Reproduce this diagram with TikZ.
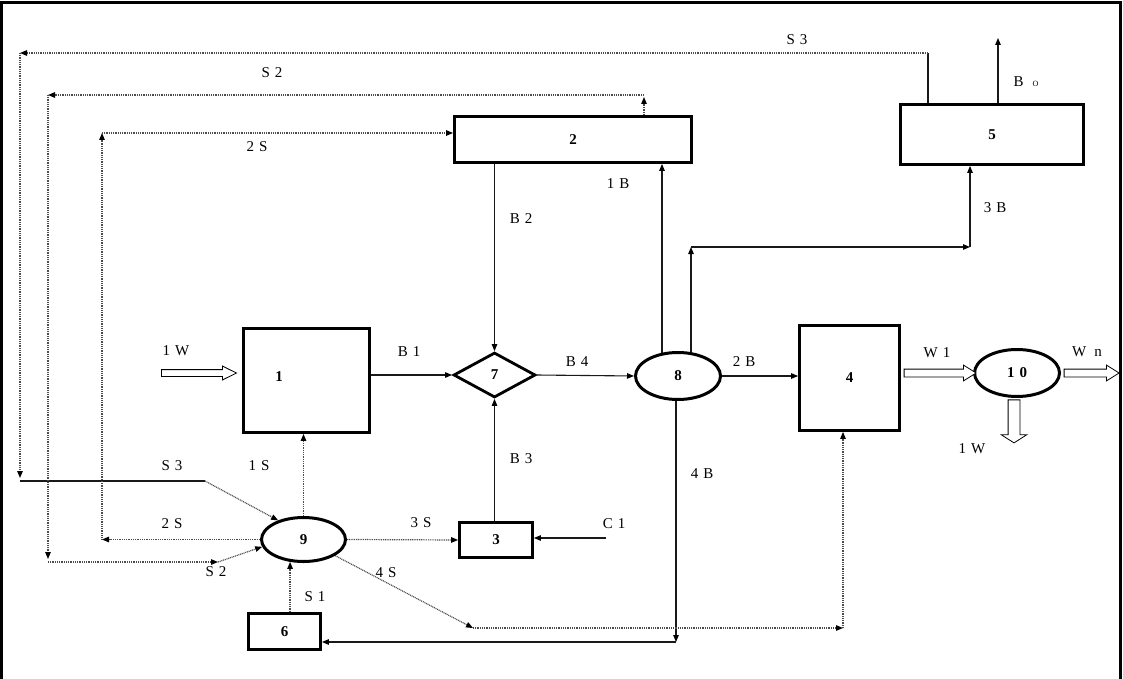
\documentclass[tikz,border=0pt]{standalone}
\usepackage{fontspec}
\setmainfont{Liberation Serif}
\usetikzlibrary{arrows.meta,shapes.geometric,shapes.arrows,backgrounds,calc}
\newcommand{\lgp}{\hspace{5pt}}
\begin{document}
\begin{tikzpicture}[x=1pt,y=-1pt,
  every node/.style={font=\fontsize{15}{18}\selectfont},
  lab/.style={inner sep=0pt, anchor=center},
  boxn/.style={draw=black, line width=2.8pt, fill=white, inner sep=0pt, font=\fontsize{15}{18}\selectfont\bfseries},
  elln/.style={ellipse, draw=black, line width=3pt, fill=white, inner sep=0pt, minimum width=85pt, minimum height=47pt, font=\fontsize{15}{18}\selectfont\bfseries},
  dia/.style={diamond, draw=black, line width=2.8pt, fill=white, inner sep=0pt, font=\fontsize{15}{18}\selectfont\bfseries},
  ln/.style={draw=black!90, line width=1.1pt},
  dots/.style={draw=black!70, line width=1.2pt, dash pattern=on 1pt off 0.8pt},
  arr/.style={-{Triangle[length=7pt,width=5.5pt,color=black]}},
  hol/.style={single arrow, draw=black, line width=0.8pt, fill=white, single arrow head indent=0pt, anchor=center, minimum width=1pt},
]
\useasboundingbox (0,0) rectangle (1123,679);
% frame
\draw[line width=3pt] (1.5,679) -- (1.5,2.5) -- (1120,2.5) -- (1120,679);

% blocks
\node[boxn, minimum width=126pt, minimum height=104pt,
      label={[lab,xshift=-27.5pt,yshift=3.5pt,font=\fontsize{15}{18}\selectfont\bfseries]center:1}] (b1) at (306.5,380.5) {};
\node[boxn, minimum width=237pt, minimum height=46pt] (b2) at (573,139.5) {2};
\node[boxn, minimum width=73pt, minimum height=35pt] (b3) at (496,540) {3};
\node[boxn, minimum width=100pt, minimum height=105pt] (b4) at (849.5,378) {4};
\node[boxn, minimum width=183pt, minimum height=60pt] (b5) at (992,134.5) {5};
\node[boxn, minimum width=72pt, minimum height=36pt] (b6) at (284.5,631.5) {6};
\node[dia, minimum width=82pt, minimum height=45pt] (d7) at (494.5,375) {7};
\node[elln] (e8) at (678,376) {8};
\node[elln, minimum width=84pt, minimum height=44pt] (e9) at (303.5,539.5) {9};
\node[elln] (e10) at (1017,373) {1\lgp 0};

% bend points
\coordinate (k1B) at ($(e8.center)+(-16,0)$);
\coordinate (k3b1) at (691,247);
\coordinate (k3b2) at (970,247);
\coordinate (k4b) at (676,642);
\coordinate (kC1) at (606,538);
\coordinate (kB0) at (998,38);
\coordinate (kS3a) at (928,53);
\coordinate (kS3b) at (20,53);
\coordinate (kS3c) at (20,481);
\coordinate (kS3d) at (205,481);
\coordinate (kS2a) at (644,95);
\coordinate (kS2b) at (48,95);
\coordinate (kS2c) at (48,562);
\coordinate (kS2d) at (218,562);
\coordinate (k2Sa) at (102,539.5);
\coordinate (k2Sb) at (102,133);
\coordinate (k4Sa) at (473,628);
\coordinate (k4Sb) at (843,628);

\begin{scope}[on background layer]
% solid flows
\draw[ln,arr] (b1.east |- d7) -- (d7.west);
\draw[ln,arr] (b2.south -| d7) -- (d7.north);
\draw[ln,arr] (b3.north -| d7) -- (d7.south);
\draw[ln,arr] (d7.east) -- (e8.west);
\draw[ln,arr] (e8.east) -- (e8.east -| b4.west);
\draw[ln,arr] (k1B) -- (k1B |- b2.south);
\draw[ln,arr] (e8.center -| k3b1) -- (k3b1);
\draw[ln,arr] (k3b1) -- (k3b2);
\draw[ln,arr] (k3b2) -- (k3b2 |- b5.south);
\draw[ln,arr] (e8.center -| k4b) -- (k4b);
\draw[ln,arr] (k4b) -- (k4b -| b6.east);
\draw[ln,arr] (kC1) -- (kC1 -| b3.east);
\draw[ln,arr] (kB0 |- b5.north) -- (kB0);
% S3 loop
\draw[ln] (kS3a |- b5.north) -- (kS3a);
\draw[dots,arr] (kS3a) -- (kS3b);
\draw[dots,arr] (kS3b) -- ($(kS3c)+(0,-3)$);
\draw[ln] (kS3c) -- (kS3d);
\draw[dots,arr] (kS3d) -- (e9.143);
% S2 loop
\draw[dots,arr] (b2.north -| kS2a) -- ($(kS2a)+(0,2)$);
\draw[dots,arr] (kS2a) -- (kS2b);
\draw[dots,arr] (kS2b) -- ($(kS2c)+(0,-3)$);
\draw[dots,arr] (kS2c) -- (kS2d);
\draw[dots,arr] (kS2d) -- (e9.190);
% 2S loop
\draw[dots,arr] (e9.west) -- (k2Sa);
\draw[dots,arr] (k2Sa) -- (k2Sb);
\draw[dots,arr] (k2Sb) -- (k2Sb -| b2.west);
% others from 9
\draw[dots,arr] (e9.east) -- (b3.west);
\draw[dots,arr] (e9.north) -- (e9.north |- b1.south);
\draw[dots,arr] (e9.239 |- b6.north) -- (e9.239);
\draw[dots,arr] (e9.333) -- (k4Sa);
\draw[dots,arr] (k4Sa) -- (k4Sb);
\draw[dots,arr] (k4Sb) -- (k4Sb |- b4.south);
\end{scope}

% hollow arrows
\node[hol, inner sep=3pt, single arrow head extend=3.5pt, single arrow tip angle=53, minimum height=75pt] (h1) at (195.5,373) {};
\node[hol, inner sep=3.5pt, single arrow head extend=4pt, single arrow tip angle=64, minimum height=72pt] (h2) at (937,373) {};
\node[hol, inner sep=3.5pt, single arrow head extend=4pt, single arrow tip angle=64, minimum height=55pt] (h3) at (1088.5,373) {};
\node[hol, inner sep=5.5pt, single arrow head extend=7pt, single arrow tip angle=115, minimum height=43pt, shape border rotate=270] (h4) at (1014,419.5) {};

% labels
\node[lab] (lS3t) at (797,40) {S\lgp 3};
\node[lab] (lS2t) at (272,73) {S\lgp 2};
\node[lab] (l2St) at (257,147) {2\lgp S};
\node[lab] (l1B) at (618,184) {1\lgp B};
\node[lab] (lB2) at (521,219) {B\lgp 2};
\node[lab] (l3B) at (995,208) {3\lgp B};
\node[lab] (lB0) at (1026,82) {B\hspace{9pt}{\fontsize{8}{9}\selectfont O}};
\node[lab] (l1W) at (176,351) {1\lgp W};
\node[lab] (lB1) at (409,352) {B\lgp 1};
\node[lab] (lB4) at (577,362) {B\lgp 4};
\node[lab] (l2B) at (744,362) {2\lgp B};
\node[lab] (lW1) at (937,353) {W\lgp 1};
\node[lab] (lWn) at (1087,352) {W\hspace{8pt}n};
\node[lab] (l1Wd) at (972,449) {1\lgp W};
\node[lab] (l4B) at (702,474) {4\lgp B};
\node[lab] (lB3) at (521,459) {B\lgp 3};
\node[lab] (lS3b) at (172,466) {S\lgp 3};
\node[lab] (l1S) at (259,466) {1\lgp S};
\node[lab] (l2Sb) at (172,524) {2\lgp S};
\node[lab] (l3S) at (421,523) {3\lgp S};
\node[lab] (lC1) at (614,524) {C\lgp 1};
\node[lab] (lS2b) at (216,572) {S\lgp 2};
\node[lab] (l4S) at (386,573) {4\lgp S};
\node[lab] (lS1) at (315,597) {S\lgp 1};
\end{tikzpicture}
\end{document}
